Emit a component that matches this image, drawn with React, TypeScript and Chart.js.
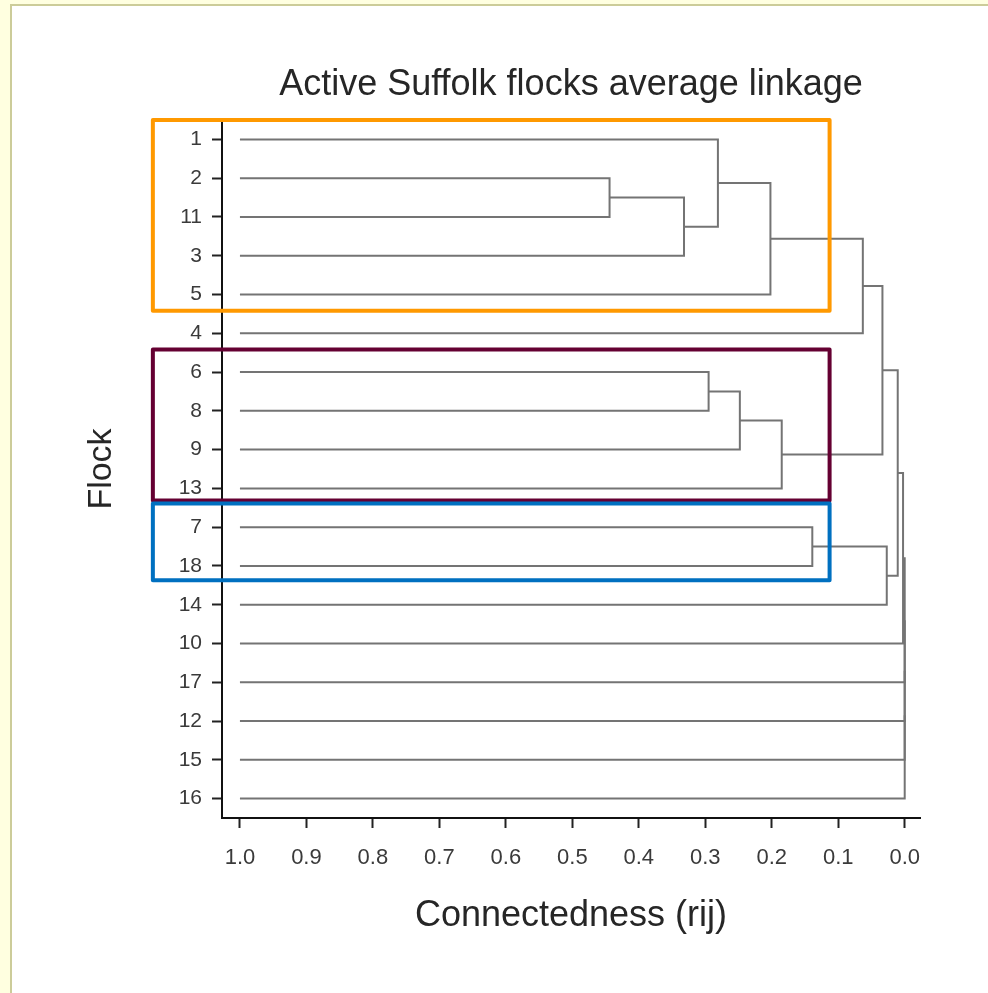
import React, { useEffect, useRef } from 'react';
import { Chart, registerables } from 'chart.js';

Chart.register(...registerables);

const chartTitle = 'Active Suffolk flocks average linkage';
const xTitle = 'Connectedness (rij)';
const yTitle = 'Flock';

// leaf order (top to bottom)
const leaves = ['1', '2', '11', '3', '5', '4', '6', '8', '9', '13', '7', '18', '14', '10', '17', '12', '15', '16'];
const leafHeight = 1.0;

// linkage: merge i joins mergeLeft[i] and mergeRight[i] at connectedness mergeHeight[i]
const mergeLeft = ['2', 'm0', '1', 'm2', 'm3', '6', 'm5', 'm6', 'm4', '7', 'm9', 'm8', 'm11', 'm12', 'm13', 'm14', 'm15'];
const mergeRight = ['11', '3', 'm1', '5', '4', '8', '9', '13', 'm7', '18', '14', 'm10', '10', '17', '12', '15', '16'];
const mergeHeight = [0.444, 0.332, 0.281, 0.202, 0.063, 0.295, 0.248, 0.185, 0.0335, 0.139, 0.027, 0.0105, 0.0025, 0, 0, 0, 0];

const xTicks = [1.0, 0.9, 0.8, 0.7, 0.6, 0.5, 0.4, 0.3, 0.2, 0.1, 0.0];

// highlight boxes (rows in leaf-index units, x in connectedness units)
const boxTop = [-0.5, 5.42, 9.39];
const boxBottom = [4.42, 9.31, 11.37];
const boxColors = ['#FF9900', '#650032', '#0070C0'];
const boxXFrom = 1.131;
const boxXTo = 0.113;

const FONT = "'Liberation Sans', Arial, Helvetica, sans-serif";

function buildSegments() {
  const pos: Record<string, { y: number; h: number }> = {};
  leaves.forEach((l, i) => {
    pos[l] = { y: i, h: leafHeight };
  });
  const segs: { x: number; y: number }[][] = [];
  mergeHeight.forEach((h, i) => {
    const a = pos[mergeLeft[i]];
    const b = pos[mergeRight[i]];
    segs.push([
      { x: a.h, y: a.y },
      { x: h, y: a.y },
      { x: h, y: b.y },
      { x: b.h, y: b.y },
    ]);
    pos['m' + i] = { y: (a.y + b.y) / 2, h };
  });
  return segs;
}

const boxPlugin = {
  id: 'boxes',
  afterDraw(chart: any) {
    const { ctx, scales } = chart;
    const xs = scales.x;
    const ys = scales.y;
    ctx.save();
    ctx.lineWidth = 4;
    ctx.lineJoin = 'round';
    boxTop.forEach((t, i) => {
      const x1 = xs.getPixelForValue(boxXFrom);
      const x2 = xs.getPixelForValue(boxXTo);
      const y1 = ys.getPixelForValue(t);
      const y2 = ys.getPixelForValue(boxBottom[i]);
      ctx.strokeStyle = boxColors[i];
      ctx.strokeRect(x1, y1, x2 - x1, y2 - y1);
    });
    ctx.restore();
  },
};

export default function App() {
  const ref = useRef<HTMLCanvasElement>(null);

  useEffect(() => {
    if (!ref.current) return;
    const segs = buildSegments();
    const chart = new Chart(ref.current, {
      type: 'scatter',
      data: {
        datasets: segs.map((s) => ({
          data: s,
          showLine: true,
          borderColor: '#747474',
          borderWidth: 2,
          pointRadius: 0,
          pointHoverRadius: 0,
          fill: false,
          tension: 0,
        })),
      },
      options: {
        animation: false,
        responsive: false,
        events: [],
        layout: { padding: { top: 40, left: 60, right: 68, bottom: 40 } },
        plugins: {
          legend: { display: false },
          tooltip: { enabled: false },
          title: {
            display: true,
            text: chartTitle,
            fullSize: false,
            color: '#262626',
            font: { family: FONT, size: 36, weight: 'normal' },
            padding: { top: 23.4, bottom: 13.4 },
          },
        },
        scales: {
          x: {
            type: 'linear',
            min: -0.023,
            max: 1.027,
            reverse: true,
            afterFit: (s: any) => {
              s.height = 135;
            },
            afterBuildTicks: (s: any) => {
              s.ticks = xTicks.map((v) => ({ value: v }));
            },
            ticks: {
              autoSkip: false,
              maxRotation: 0,
              padding: 17,
              color: '#3a3a3a',
              font: { family: FONT, size: 22 },
              callback: (v: any) => Number(v).toFixed(1),
            },
            grid: {
              drawOnChartArea: false,
              drawTicks: true,
              tickLength: 10,
              tickColor: '#222',
              tickWidth: 2,
            },
            border: { display: true, color: '#111', width: 2 },
            title: {
              display: true,
              text: xTitle,
              color: '#262626',
              font: { family: FONT, size: 36 },
              padding: { top: 0, bottom: 15.4 },
            },
          },
          y: {
            type: 'linear',
            min: -0.5,
            max: 17.5,
            reverse: true,
            afterFit: (s: any) => {
              s.width = 162;
            },
            afterBuildTicks: (s: any) => {
              s.ticks = leaves.map((_, i) => ({ value: i }));
            },
            ticks: {
              autoSkip: false,
              padding: 10,
              color: '#3a3a3a',
              font: { family: FONT, size: 21 },
              callback: (v: any) => leaves[Math.round(Number(v))],
            },
            grid: {
              drawOnChartArea: false,
              drawTicks: true,
              tickLength: 10,
              tickColor: '#222',
              tickWidth: 2,
            },
            border: { display: true, color: '#111', width: 2 },
            title: {
              display: true,
              text: yTitle,
              color: '#262626',
              font: { family: FONT, size: 34 },
              padding: { top: 21.6, bottom: 0 },
            },
          },
        },
      },
      plugins: [boxPlugin],
    });
    return () => chart.destroy();
  }, []);

  return (
    <div style={{ position: 'fixed', left: 0, top: 0, width: 988, height: 993, background: '#FFFFE0', overflow: 'hidden' }}>
      <div
        style={{
          position: 'absolute',
          left: 10,
          top: 4,
          width: 1000,
          height: 1000,
          background: '#fff',
          borderLeft: '2px solid #CCCC99',
          borderTop: '2px solid #CCCC99',
        }}
      />
      <canvas ref={ref} width={988} height={993} style={{ position: 'absolute', left: 0, top: 0, width: 988, height: 993 }} />
    </div>
  );
}
